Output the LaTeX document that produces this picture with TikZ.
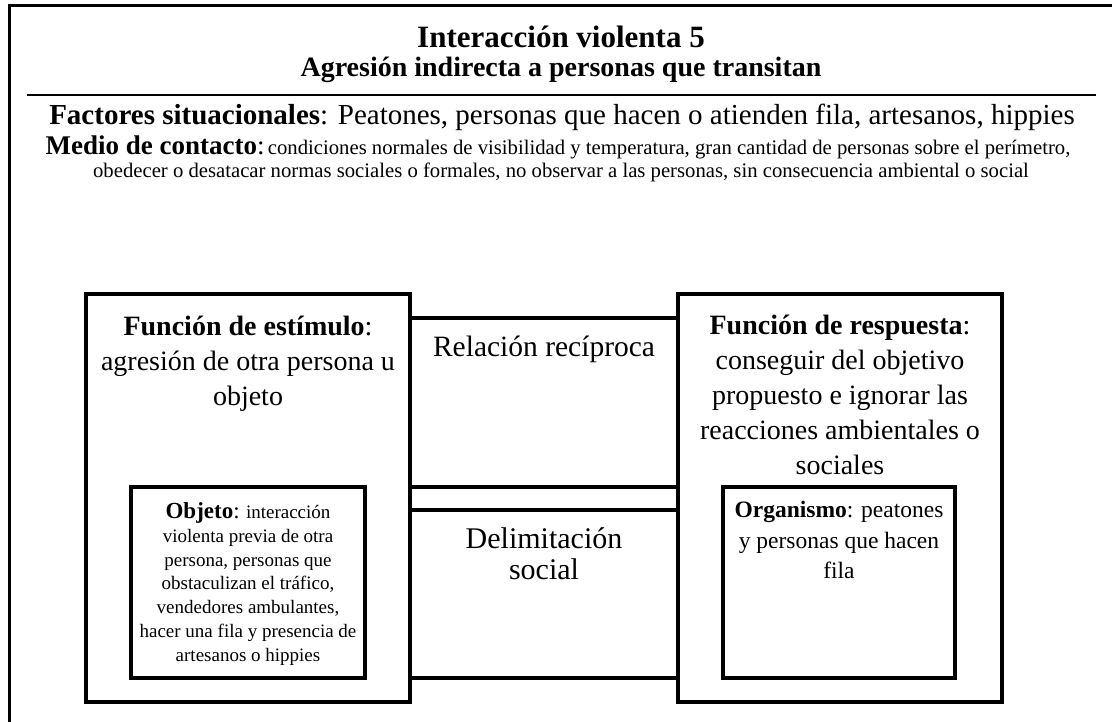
\documentclass[tikz,border=0pt]{standalone}
\usepackage{fontspec}
\setmainfont{Liberation Serif}
\usetikzlibrary{positioning}

\tikzset{
  frame/.style={line width=3pt},
  box/.style={draw,line width=3.5pt,inner sep=0pt},
  big/.style={font=\fontsize{28}{35}\selectfont},
  mid/.style={font=\fontsize{23.5}{30.5}\selectfont},
  tiny/.style={font=\fontsize{19}{23.8}\selectfont},
  txt/.style={align=center,inner sep=0pt,anchor=north}
}

\begin{document}
\begin{tikzpicture}[x=1pt,y=-1pt]
\useasboundingbox (0,0) rectangle (1112,722);
\coordinate (fa) at (9,6);
\coordinate (fb) at (1112,6);
\coordinate (fc) at (9,722);
\coordinate (sa) at (27,95);
\coordinate (sb) at (1096,95);
\draw[frame] (fc) -- (fa) -- (fb);
\draw[line width=2.5pt] (sa) -- (sb);
\node[anchor=base,font=\fontsize{31}{35}\selectfont\bfseries] (tit1) at (561,48) {Interacción violenta 5};
\node[anchor=base,font=\fontsize{28}{35}\selectfont\bfseries] (tit2) at (561,77) {Agresión indirecta a personas que transitan};
\node[anchor=base,font=\fontsize{29}{35}\selectfont] (fact) at (562,125) {\textbf{Factores situacionales}: Peatones, personas que hacen o atienden fila, artesanos, hippies};
\node[anchor=base] (medio) at (558,155) {{\fontsize{27}{30}\selectfont\textbf{Medio de contacto}:} {\fontsize{20.7}{24}\selectfont condiciones normales de visibilidad y temperatura, gran cantidad de personas sobre el perímetro,}};
\node[anchor=base,font=\fontsize{20.7}{24}\selectfont] (medio2) at (561,178) {obedecer o desatacar normas sociales o formales, no observar a las personas, sin consecuencia ambiental o social};
\node[box,minimum width=268,minimum height=169] (recip) at (544,402.5) {};
\node[box,minimum width=268,minimum height=168] (delim) at (544,594) {};
\node[box,minimum width=324,minimum height=408] (estim) at (248,498) {};
\node[box,minimum width=324,minimum height=408] (resp) at (840,498) {};
\node[box,minimum width=234,minimum height=191] (obj) at (248,582.5) {};
\node[box,minimum width=232,minimum height=191] (org) at (839,582.5) {};
\node[txt,big,below=24pt of estim.north] (estimtxt) {\textbf{Función de estímulo}:\\ agresión de otra persona u\\ objeto};
\node[txt,big,below=23pt of resp.north] (resptxt) {\textbf{Función de respuesta}:\\ conseguir del objetivo\\ propuesto e ignorar las\\ reacciones ambientales o\\ sociales};
\node[txt,font=\fontsize{29.5}{32}\selectfont,below=20pt of recip.north] (reciptxt) {Relación recíproca};
\node[txt,font=\fontsize{30}{31.5}\selectfont,below=19pt of delim.north] (delimtxt) {Delimitación\\ social};
\node[txt,tiny,below=17pt of obj.north] (objtxt) {{\fontsize{23}{28}\selectfont\textbf{Objeto}:} interacción\\ violenta previa de otra\\ persona, personas que\\ obstaculizan el tráfico,\\ vendedores ambulantes,\\ hacer una fila y presencia de\\ artesanos o hippies};
\node[txt,mid,below=16pt of org.north] (orgtxt) {\textbf{Organismo}: peatones\\ y personas que hacen\\ fila};
\end{tikzpicture}
\end{document}
